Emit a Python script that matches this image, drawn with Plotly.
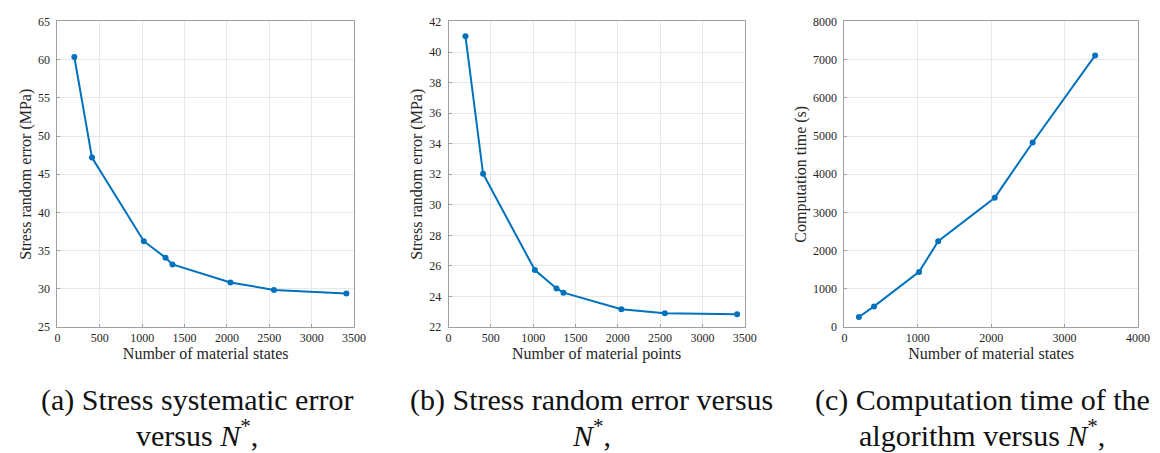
import plotly.graph_objects as go

# Panel (a): stress systematic error vs number of material states
n_a = [200, 408, 1020, 1276, 1358, 2042, 2556, 3410]
err_a = [60.35, 47.18, 36.24, 34.08, 33.2, 30.83, 29.86, 29.4]

# Panel (b): stress random error vs number of material points
n_b = [200, 408, 1020, 1276, 1358, 2042, 2556, 3410]
err_b = [41.03, 32.03, 25.73, 24.53, 24.25, 23.16, 22.9, 22.84]

# Panel (c): computation time vs number of material states
n_c = [198, 404, 1018, 1278, 2049, 2565, 3417]
time_c = [262, 541, 1444, 2247, 3387, 4831, 7111]

caption_line1 = [
    "(a) Stress systematic error",
    "(b) Stress random error versus",
    "(c) Computation time of the",
]
caption_line2 = [
    "versus <i>N</i><sup>*</sup>,",
    "<i>N</i><sup>*</sup>,",
    "algorithm versus <i>N</i><sup>*</sup>,",
]

W, H = 1160, 453
FONT = "Liberation Serif"
TXT = "#262626"
BLUE = "#0072BD"

fig = go.Figure()

def px_x(p):
    return p / W

def px_y(p):
    return 1 - p / H

ydom = [px_y(322), px_y(6.7)]
xdoms = [[px_x(47), px_x(347.5)], [px_x(443.3), px_x(743.3)], [px_x(844.3), px_x(1141.7)]]

series = [(n_a, err_a), (n_b, err_b), (n_c, time_c)]
for i, (xs, ys) in enumerate(series):
    sfx = "" if i == 0 else str(i + 1)
    fig.add_trace(go.Scatter(
        x=xs, y=ys, mode="lines+markers",
        line=dict(color=BLUE, width=2),
        marker=dict(color=BLUE, size=6),
        xaxis="x" + sfx, yaxis="y" + sfx, showlegend=False,
    ))

axis_common = dict(
    showline=True, linecolor="#a0a0a0", linewidth=1, mirror=True,
    showgrid=True, gridcolor="#e8e8e8", gridwidth=1,
    ticks="inside", ticklen=3, tickcolor="#a0a0a0",
    zeroline=False, ticklabeloverflow="allow",
    tickfont=dict(family=FONT, size=12, color=TXT),
)

xtitles = ["Number of material states", "Number of material points", "Number of material states"]
ytitles = ["Stress random error (MPa)", "Stress random error (MPa)", "Computation time (s)"]
xranges = [[0, 3500], [0, 3500], [0, 4000]]
xdticks = [500, 500, 1000]
yranges = [[25, 65], [22, 42], [0, 8000]]
ydticks = [5, 2, 1000]

layout = dict(
    width=W, height=H,
    margin=dict(l=0, r=0, t=0, b=0),
    paper_bgcolor="white", plot_bgcolor="white",
    font=dict(family=FONT, color=TXT),
)
for i in range(3):
    sfx = "" if i == 0 else str(i + 1)
    layout["xaxis" + sfx] = dict(
        axis_common, domain=xdoms[i], range=xranges[i], dtick=xdticks[i], tick0=0,
        anchor="y" + sfx,
        title=dict(text=xtitles[i], font=dict(family=FONT, size=16, color=TXT), standoff=1),
    )
    layout["yaxis" + sfx] = dict(
        axis_common, domain=ydom, range=yranges[i], dtick=ydticks[i],
        anchor="x" + sfx, ticklabelstandoff=4,
        title=dict(text=ytitles[i], font=dict(family=FONT, size=16, color=TXT), standoff=2),
    )

fig.update_layout(**layout)

cap_x = [188, 588, 984]
for cx, l1, l2 in zip(cap_x, caption_line1, caption_line2):
    fig.add_annotation(
        x=cx / W, y=px_y(397), xref="paper", yref="paper",
        text=l1, showarrow=False, xanchor="center", yanchor="middle",
        font=dict(family=FONT, size=30, color="#111111"),
    )
    fig.add_annotation(
        x=cx / W, y=px_y(431), xref="paper", yref="paper",
        text=l2, showarrow=False, xanchor="center", yanchor="middle",
        font=dict(family=FONT, size=30, color="#111111"),
    )

fig.write_html("out.html")
